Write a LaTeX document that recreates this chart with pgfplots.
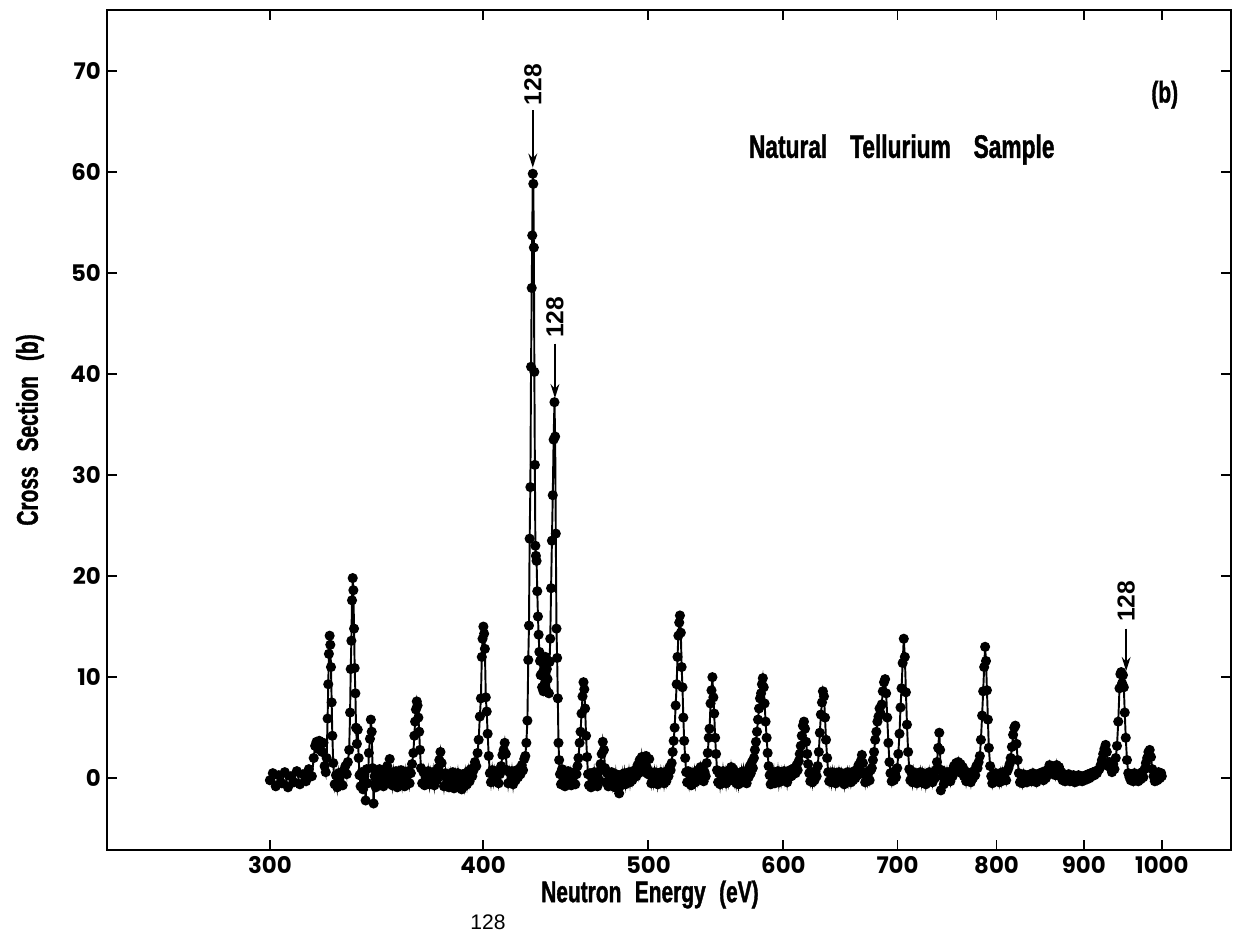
\documentclass[border=0pt]{standalone}
\usepackage{fontspec}
\setmainfont{Liberation Sans}
\newfontfamily\condfont{Liberation Sans}[FakeStretch=0.70, FakeBold=1.2]
\newfontfamily\tickfont{Poppins}
\usepackage{pgfplots}
\pgfplotsset{compat=1.18}
\usetikzlibrary{arrows.meta}

\newcommand{\cond}{\condfont\bfseries\fontsize{17}{20}\selectfont}
\newcommand{\isofont}{\bfseries\fontsize{14}{16}\selectfont}

\begin{document}
\begin{tikzpicture}
% page = 1236 x 933 px, 1 px = 0.02 cm; axis box 1124 x 840 px
\path[use as bounding box] (-2.14cm,-1.66cm) rectangle (22.58cm,17.0cm);
\begin{axis}[
    scale only axis,
    width=22.48cm, height=16.8cm,
    xmode=log,
    xmin=240.8, xmax=1098,
    ymin=-7.1, ymax=76,
    xtick={300,400,500,600,700,800,900,1000},
    xticklabels={300,400,500,600,700,800,900,1000},
    minor xtick={},
    ytick={0,10,20,30,40,50,60,70},
    yticklabels={0,10,20,30,40,50,60,70},
    tick label style={font=\tickfont\bfseries\fontsize{13}{15}\selectfont},
    axis line style={line width=1.5pt},
    every tick/.style={black, line width=1.1pt},
    major tick length=0.2cm,
    xlabel={\cond Neutron\hspace{0.45em}Energy\hspace{0.45em}(eV)},
    ylabel={\cond Cross\hspace{0.5em}Section\hspace{0.5em}(b)},
    xlabel style={at={(axis description cs:0.483,-0.053)}, anchor=center},
    ylabel style={at={(axis description cs:-0.0685,0.5)}, anchor=center, rotate=0},
    clip=false,
]

\addplot[black, line width=1.1pt, mark=*, mark size=2.3pt] coordinates {
(300.0,-0.2) (301.2,0.5) (302.4,-0.8) (303.6,0.3) (304.9,-0.5) (306.1,0.6) (307.4,-0.9) (308.6,0.2) (309.9,-0.4) (311.1,0.7) (312.4,-0.6) (313.7,0.4) (315.0,-0.3) (316.2,0.9) (317.5,0.2)
(318.3,2.0) (318.9,3.2) (319.5,3.6) (320.1,2.9) (320.7,3.7) (321.3,3.4) (321.9,2.6) (322.5,3.5) (323.0,1.2) (323.5,0.6)
(323.9,2.0) (324.3,5.9) (324.6,9.3) (324.9,12.3) (325.2,14.1) (325.5,13.2) (325.8,11.0) (326.1,7.5) (326.4,4.2) (326.8,1.5) (327.4,-0.6) (328.0,0.3) (328.6,-0.9) (329.2,0.5) (329.8,-0.4) (330.4,0.6) (331.0,-0.7) (331.6,0.8) (332.2,1.2) (332.8,0.4) (333.3,1.6)
(333.9,2.8) (334.3,6.5) (334.6,10.8) (334.9,13.6) (335.2,17.6) (335.5,19.8) (335.8,18.6) (336.1,14.8) (336.4,10.9) (336.7,8.4) (337.0,5.0) (337.4,3.4) (337.8,4.8) (338.2,2.0) (338.6,0.3) (339.1,-0.8) (339.6,0.6) (340.2,-1.1) (340.8,0.4) (341.4,-2.2) (341.9,0.9) (342.4,-0.5) (342.9,2.5)
(343.4,3.9) (343.8,5.8) (344.2,4.6) (344.6,1.0) (345.1,-2.5) (345.6,0.2) (346.1,-0.9) (346.7,0.7) (347.3,-0.6) (347.9,0.9) (348.5,-0.4) (349.1,0.5) (349.7,-0.8) (350.3,0.8) (350.9,-0.2) (351.5,1.2) (352.1,0.1) (352.7,1.9) (353.3,0.4) (353.9,-0.7) (354.5,0.6) (355.1,-0.4) (355.7,0.7) (356.3,-0.9) (356.9,0.5) (357.5,-0.3) (358.1,0.8) (358.7,-0.6) (359.3,0.4) (359.9,-0.8) (360.5,0.6) (361.1,-0.3) (361.7,0.7) (362.3,-0.5) (362.9,0.5) (363.5,1.4)
(364.1,2.5) (364.6,4.2) (365.0,5.6) (365.4,6.8) (365.8,7.6) (366.2,7.2) (366.6,6.0) (367.0,4.6) (367.4,2.8) (367.9,1.0) (368.5,-0.5) (369.1,0.6) (369.7,-0.7) (370.3,0.4) (370.9,-0.3) (371.5,0.7) (372.2,-0.6) (372.8,0.5) (373.4,-0.4) (374.0,0.6) (374.6,-0.7) (375.3,0.4) (375.9,-0.2) (376.5,1.0) (377.1,1.8) (377.7,2.6) (378.3,1.5) (378.9,0.3) (379.5,-0.8) (380.2,0.5) (380.8,-0.6) (381.5,0.3) (382.1,-0.9) (382.8,0.4) (383.4,-0.5) (384.1,0.6) (384.7,-1.0) (385.4,0.3) (386.0,-0.6) (386.7,0.5) (387.4,-0.9) (388.0,0.2) (388.7,-1.1) (389.4,0.4) (390.1,-0.8) (390.8,0.5) (391.5,-0.6) (392.2,0.7) (392.9,-0.3) (393.6,0.9) (394.3,0.2) (395.0,0.8) (395.7,1.6) (396.4,1.2)
(397.1,2.5) (397.7,3.8) (398.3,6.1) (398.9,7.9) (399.4,12.0) (399.8,13.8) (400.2,15.0) (400.6,14.3) (401.0,12.8) (401.5,8.0) (402.0,6.6) (402.5,4.4) (403.1,2.2) (403.7,0.5) (404.3,-0.4) (405.0,0.8) (405.7,-0.3) (406.4,0.7) (407.1,-0.2) (407.8,0.6) (408.5,-0.5) (409.2,0.4) (409.9,1.2) (410.6,2.3) (411.3,2.8) (411.9,3.5) (412.5,2.4) (413.1,0.8) (413.8,-0.5) (414.5,0.6) (415.2,-0.3) (415.9,0.7) (416.6,-0.6) (417.3,0.5) (418.0,-0.2) (418.7,0.8) (419.4,0.1) (420.1,0.9) (420.8,0.4) (421.5,1.3) (422.2,0.8) (422.9,1.9)
(423.5,2.2) (424.1,3.5) (424.7,5.7) (425.2,11.7) (425.6,15.1) (426.0,23.7) (426.4,28.8) (426.8,40.7) (427.2,48.5) (427.5,53.7) (427.8,59.8) (428.1,58.8) (428.4,52.5) (428.7,40.2) (429.0,31.0) (429.3,23.0) (429.6,22.0) (430.0,21.5) (430.4,18.5) (430.8,16.0) (431.2,14.2) (431.6,12.5) (432.0,11.6) (432.4,10.2) (432.8,11.8) (433.2,9.0) (433.6,10.5) (434.0,8.6) (434.4,11.2) (434.8,9.4) (435.2,12.0) (435.6,8.8) (436.0,10.8) (436.4,9.8) (436.8,11.6) (437.2,8.4) (437.6,11.5) (438.0,13.8) (438.5,18.8) (439.0,23.5) (439.5,28.0) (440.0,33.5) (440.5,37.2) (440.9,33.8) (441.3,24.2) (441.7,14.8) (442.1,11.9) (442.5,7.9) (442.9,3.5) (443.3,1.8) (443.8,0.4)
(444.4,-0.6) (445.0,0.9) (445.6,-0.3) (446.2,0.6) (446.8,-0.8) (447.5,0.4) (448.1,-0.5) (448.7,0.7) (449.3,-0.2) (450.0,0.5) (450.6,-0.7) (451.2,0.3) (451.9,-0.4) (452.5,0.6) (453.1,-0.6) (453.8,0.4) (454.4,1.2) (455.0,2.0) (455.7,3.5)
(456.3,4.6) (456.9,6.4) (457.5,8.1) (458.1,9.5) (458.6,8.8) (459.1,6.9) (459.7,4.2) (460.3,2.1) (460.9,0.4) (461.5,-0.7) (462.2,0.5) (462.8,-0.9) (463.5,0.3) (464.1,-0.6) (464.8,0.6) (465.5,-0.3) (466.1,0.4) (466.8,-0.8) (467.5,0.6) (468.1,-0.2) (468.8,1.4) (469.5,2.4) (470.2,3.6) (470.9,2.8) (471.6,1.0) (472.3,-0.4) (473.0,0.5) (473.7,-0.8) (474.4,0.3) (475.1,-0.5) (475.8,0.6) (476.5,-0.6) (477.2,0.2) (477.9,-0.9) (478.6,0.4) (479.3,-0.5) (480.0,0.3) (480.7,-1.5) (481.4,0.2) (482.1,-0.7) (482.8,0.4) (483.5,-0.4) (484.2,0.5) (484.9,-0.6) (485.7,0.3) (486.4,-0.3) (487.1,0.6) (487.8,-0.4) (488.5,0.5) (489.2,-0.2) (489.9,0.7) (490.6,0.1) (491.3,0.8) (492.0,0.2) (492.8,1.3) (493.5,0.5) (494.2,1.8) (494.9,0.9) (495.6,2.1) (496.3,1.2) (497.0,1.9) (497.7,0.6) (498.5,2.2) (499.2,1.0) (499.9,0.4) (500.6,1.9) (501.3,0.3) (502.0,-0.5) (502.8,0.4) (503.5,-0.4) (504.2,0.6) (505.0,-0.3) (505.7,0.5) (506.4,-0.6) (507.2,0.3) (507.9,-0.4) (508.6,0.6) (509.4,-0.2) (510.1,0.5) (510.8,-0.5) (511.6,0.4) (512.3,-0.3) (513.0,0.7) (513.8,0.2) (514.5,1.1) (515.3,0.8) (516.0,1.5) (516.7,2.6)
(517.4,3.7) (518.1,5.0) (518.8,7.2) (519.5,9.3) (520.1,12.0) (520.7,14.1) (521.3,15.4) (521.8,16.1) (522.4,14.4) (523.0,11.0) (523.6,9.0) (524.2,6.0) (524.8,3.7) (525.5,2.0) (526.2,0.6) (526.9,-0.4) (527.6,0.7) (528.4,-0.5) (529.1,0.3) (529.8,-0.7) (530.6,0.4) (531.3,-0.3) (532.1,0.6) (532.8,-0.4) (533.5,0.5) (534.3,-0.2) (535.0,0.8) (535.8,0.3) (536.5,1.1) (537.3,0.4) (538.0,0.9) (538.8,-0.3) (539.5,0.6) (540.3,0.2) (541.0,1.5) (541.8,2.5) (542.5,4.0)
(543.1,4.9) (543.8,7.4) (544.5,8.7) (545.2,10.0) (545.9,8.0) (546.5,6.4) (547.2,4.0) (547.9,2.4) (548.6,0.8) (549.4,-0.4) (550.1,0.5) (550.9,-0.6) (551.6,0.3) (552.4,-0.4) (553.1,0.7) (553.9,-0.2) (554.6,0.5) (555.4,-0.5) (556.2,0.4) (556.9,-0.3) (557.7,0.8) (558.5,0.2) (559.2,1.1) (560.0,0.4) (560.8,0.9) (561.6,-0.2) (562.3,0.6) (563.1,-0.5) (563.9,0.3) (564.7,-0.6) (565.5,0.4) (566.3,-0.3) (567.0,0.6) (567.8,-0.4) (568.6,0.7) (569.4,-0.2) (570.2,0.5) (571.0,-0.5) (571.8,0.6) (572.6,0.1) (573.4,1.2) (574.2,0.5) (575.0,1.6) (575.8,1.0) (576.6,2.0) (577.4,2.8) (578.2,3.6)
(579.0,4.6) (579.8,5.8) (580.6,6.9) (581.4,7.9) (582.2,8.4) (582.9,9.3) (583.6,9.9) (584.3,9.0) (585.0,7.4) (585.8,5.6) (586.6,4.0) (587.4,2.5) (588.2,1.2) (589.0,0.3) (589.8,-0.6) (590.6,0.5) (591.4,-0.3) (592.3,0.6) (593.1,-0.5) (593.9,0.4) (594.7,-0.2) (595.6,0.7) (596.4,-0.4) (597.2,0.5) (598.1,-0.3) (598.9,0.6) (599.7,0.0) (600.6,0.7) (601.4,-0.2) (602.3,0.5) (603.1,-0.4) (604.0,0.6) (604.8,0.1) (605.7,0.8) (606.5,0.2) (607.4,0.9) (608.2,0.4) (609.1,1.0) (610.0,0.5) (610.8,1.3) (611.7,0.8) (612.6,1.7) (613.4,2.4) (614.3,3.2)
(615.1,4.2) (616.0,5.2) (616.9,5.6) (617.8,4.9) (618.7,3.6) (619.6,2.4) (620.4,1.4) (621.3,0.5) (622.2,-0.3) (623.1,0.5) (624.0,-0.4) (624.9,0.6) (625.8,-0.2) (626.7,0.7) (627.6,0.2) (628.5,1.2) (629.4,2.6) (630.3,4.5) (631.2,6.3) (632.1,7.5) (632.9,8.6) (633.8,8.1) (634.7,6.0) (635.6,3.8) (636.5,2.0) (637.4,0.6) (638.3,-0.3) (639.3,0.5) (640.2,-0.4) (641.1,0.6) (642.1,-0.2) (643.0,0.5) (643.9,-0.5) (644.9,0.4) (645.8,-0.3) (646.8,0.6) (647.7,-0.2) (648.7,0.5) (649.6,-0.4) (650.6,0.3) (651.5,-0.6) (652.5,0.4) (653.4,-0.2) (654.4,0.6) (655.4,-0.3) (656.3,0.5) (657.3,-0.4) (658.3,0.4) (659.2,-0.2) (660.2,0.7) (661.2,0.0) (662.2,0.8) (663.2,0.3) (664.1,1.3) (665.1,0.7) (666.1,1.7) (667.1,2.3) (668.1,1.5) (669.1,0.4) (670.1,-0.4) (671.1,0.6) (672.1,-0.3) (673.1,0.5) (674.1,-0.2) (675.1,0.8)
(676.1,1.0) (677.1,1.8) (678.2,2.6) (679.2,3.8) (680.2,4.6) (681.2,5.6) (682.2,6.1) (683.2,6.9) (684.2,6.4) (685.2,7.3) (686.2,8.6) (687.3,9.5) (688.3,9.8) (689.3,8.4) (690.3,6.0) (691.4,3.5) (692.4,1.6) (693.4,0.5) (694.5,-0.3) (695.5,0.6) (696.6,-0.2) (697.6,0.5) (698.6,0.1) (699.7,1.0) (700.7,2.4) (701.8,4.4) (702.8,7.0) (703.8,8.9) (704.9,11.4) (705.9,13.8) (706.9,12.0) (708.0,8.5) (709.0,5.3) (710.1,2.6) (711.2,0.9) (712.2,-0.2) (713.3,0.5) (714.3,-0.4) (715.4,0.6) (716.5,-0.3) (717.6,0.4) (718.6,-0.5) (719.7,0.3) (720.8,-0.2) (721.9,0.6) (723.0,-0.4) (724.0,0.5) (725.1,-0.3) (726.2,0.4) (727.3,-0.6) (728.4,0.3) (729.5,-0.3) (730.6,0.6) (731.7,-0.2) (732.8,0.5) (733.9,-0.4) (735.0,0.4) (736.1,0.0) (737.2,0.8) (738.3,1.6) (739.5,3.0) (740.6,4.5) (741.4,2.8) (742.1,-1.2) (742.9,0.8) (744.0,0.2) (745.1,-0.6) (746.2,0.5) (747.3,-0.3) (748.4,0.6) (749.6,-0.2) (750.7,0.4) (751.8,-0.3) (753.0,0.7) (754.1,0.2) (755.3,1.2) (756.4,0.6) (757.6,1.5) (758.7,0.9) (759.9,1.6) (761.0,0.8) (762.2,1.4) (763.4,0.5) (764.5,1.1) (765.7,0.2) (766.9,0.7) (768.0,-0.3) (769.2,0.5) (770.4,-0.2) (771.6,0.4) (772.8,-0.4) (773.9,0.6) (775.1,0.0) (776.3,0.7) (777.5,0.3) (778.7,1.2) (779.9,1.0) (781.1,1.6) (782.3,2.2) (783.5,3.8) (784.7,6.2) (785.9,8.6) (786.9,11.0) (787.9,13.0) (788.9,11.6) (789.9,8.7) (790.9,5.8) (791.9,3.0) (793.2,1.2) (794.4,0.2)
(795.6,-0.5) (796.8,0.4) (798.1,-0.3) (799.3,0.5) (800.5,-0.2) (801.8,0.4) (803.0,-0.4) (804.2,0.5) (805.5,-0.3) (806.7,0.6) (808.0,-0.1) (809.2,0.5) (810.5,-0.2) (811.7,0.7) (813.0,1.0) (814.3,1.4) (815.5,2.0) (816.8,3.1) (818.1,4.3) (819.4,5.0) (820.6,5.2) (821.9,3.4) (823.2,1.8) (824.5,0.5)
(825.8,-0.4) (827.1,0.3) (828.4,-0.5) (829.7,0.4) (831.0,-0.3) (832.3,0.2) (833.6,-0.4) (835.0,0.3) (836.3,-0.2) (837.6,0.4) (838.9,-0.3) (840.3,0.5) (841.6,-0.2) (842.9,0.3) (844.3,-0.4) (845.6,0.4) (847.0,-0.1) (848.3,0.5) (849.7,0.0) (851.0,0.6) (852.4,-0.2) (853.8,0.5) (855.1,0.0) (856.5,0.8) (857.9,0.4) (859.3,1.3) (860.7,0.7) (862.1,1.2) (863.5,0.4) (864.9,1.0) (866.3,0.3) (867.7,1.3) (869.1,0.6) (870.5,1.1) (871.9,0.2) (873.3,0.6) (874.7,-0.2) (876.2,0.4) (877.6,-0.3) (879.0,0.3) (880.5,-0.2) (881.9,0.4) (883.4,-0.3) (884.8,0.2) (886.3,-0.2) (887.7,0.3) (889.2,-0.4) (890.6,0.2) (892.1,-0.3) (893.6,0.3) (895.1,-0.2) (896.5,0.2) (898.0,-0.3) (899.5,0.2) (901.0,-0.2) (902.5,0.3) (904.0,-0.1) (905.5,0.4) (907.0,0.0) (908.5,0.5) (910.0,0.2) (911.6,0.6) (913.1,0.3) (914.6,0.7) (916.2,0.5) (917.7,0.8) (919.2,0.9) (920.8,1.3) (922.3,1.8) (923.9,2.4) (925.4,2.9) (927.0,3.3) (928.5,2.6) (930.1,1.2) (931.7,1.6) (933.3,1.0)
(934.9,0.6) (936.5,1.4) (938.1,0.9) (939.7,2.0) (941.3,3.2) (942.9,5.6) (944.5,8.9) (945.6,10.3) (946.7,10.5) (947.8,9.4) (948.9,10.2) (950.0,9.0) (951.2,6.5) (952.5,4.0) (954.1,1.8) (955.7,0.5) (957.3,0.1) (958.9,-0.2) (960.5,0.4) (962.2,-0.3) (963.8,0.5) (965.4,-0.2) (967.1,0.3) (968.7,-0.3) (970.4,0.4) (972.0,-0.1) (973.7,0.6) (975.4,0.1) (977.0,0.9) (978.7,1.5) (980.4,2.0) (982.1,2.6) (983.8,2.8) (985.5,2.1) (987.2,0.9) (988.9,0.2) (990.6,-0.3) (992.3,0.5) (994.0,-0.2) (995.7,0.6) (997.4,0.0) (999.1,0.5) (1000.0,0.2)
};

% isotope markers
\draw[-{Stealth[length=8pt,width=5pt]}, line width=1.1pt] (axis cs:427.8,66.1) -- (axis cs:427.8,60.4);
\node[rotate=90, font=\isofont] at (axis cs:427.8,68.6) {128};
\draw[-{Stealth[length=8pt,width=5pt]}, line width=1.1pt] (axis cs:440.8,43.0) -- (axis cs:440.8,37.6);
\node[rotate=90, font=\isofont] at (axis cs:440.8,45.6) {128};
\draw[-{Stealth[length=8pt,width=5pt]}, line width=1.1pt] (axis cs:953,14.8) -- (axis cs:953,10.6);
\node[rotate=90, font=\isofont] at (axis cs:953,17.5) {128};

\node[font=\cond] at (rel axis cs:0.941,0.899) {(b)};
\node[font=\condfont\bfseries\fontsize{18.5}{21}\selectfont] at (rel axis cs:0.707,0.834) {Natural\hspace{0.7em}Tellurium\hspace{0.7em}Sample};
\end{axis}
% caption fragment at the page foot
\node[font=\fontsize{12}{14}\selectfont] at (7.62cm,-1.44cm) {128};
\end{tikzpicture}
\end{document}
